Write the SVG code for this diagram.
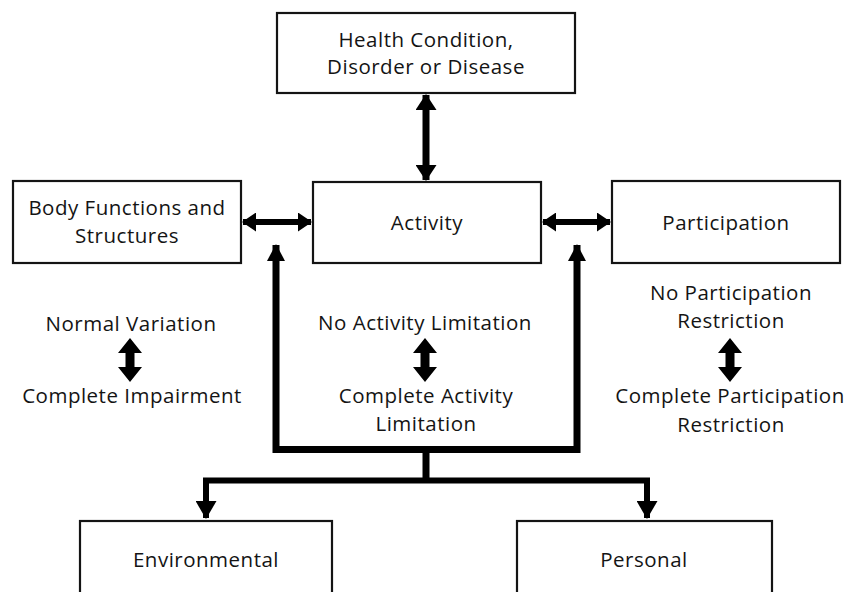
<svg xmlns="http://www.w3.org/2000/svg" width="847" height="592" viewBox="0 0 847 592">
  <style>
    .box { fill: #ffffff; stroke: #141414; stroke-width: 2.2; }
    .lbl { font-family: "Open Sans", "Noto Sans", "Liberation Sans", sans-serif; font-size: 20.5px; font-weight: 500; fill: #141414; text-anchor: middle; letter-spacing: 0.5px; }
    .conn { fill: none; stroke: #000000; stroke-linejoin: miter; stroke-linecap: butt; }
    .thick { stroke-width: 7; }
    .mid { stroke-width: 6; }
    .fat { fill: #000000; }
  </style>
  <defs>
    <marker id="headV" markerUnits="userSpaceOnUse" markerWidth="16" markerHeight="21" viewBox="0 0 16 21" refX="15" refY="10.5" orient="auto-start-reverse">
      <path d="M0,0 L16,10.5 L0,21 z" fill="#000"/>
    </marker>
    <marker id="headH" markerUnits="userSpaceOnUse" markerWidth="14" markerHeight="19" viewBox="0 0 14 19" refX="13" refY="9.5" orient="auto-start-reverse">
      <path d="M0,0 L14,9.5 L0,19 z" fill="#000"/>
    </marker>
    <marker id="headU" markerUnits="userSpaceOnUse" markerWidth="17" markerHeight="18" viewBox="0 0 17 18" refX="16" refY="9" orient="auto-start-reverse">
      <path d="M0,0 L17,9 L0,18 z" fill="#000"/>
    </marker>
    <marker id="headD" markerUnits="userSpaceOnUse" markerWidth="18" markerHeight="21" viewBox="0 0 18 21" refX="17" refY="10.5" orient="auto-start-reverse">
      <path d="M0,0 L18,10.5 L0,21 z" fill="#000"/>
    </marker>
    <polygon id="fatArrow" class="fat" points="0,0 12,15 4.5,15 4.5,29 12,29 0,44 -12,29 -4.5,29 -4.5,15 -12,15"/>
  </defs>

  <g id="connectors">
    <path class="conn thick" d="M426,95 L426,180" marker-start="url(#headV)" marker-end="url(#headV)"/>
    <path class="conn mid" d="M243,222 L311,222" marker-start="url(#headH)" marker-end="url(#headH)"/>
    <path class="conn mid" d="M543,222 L610,222" marker-start="url(#headH)" marker-end="url(#headH)"/>
    <path class="conn thick" d="M276,245 L276,449.5 L577,449.5 L577,245" marker-start="url(#headU)" marker-end="url(#headU)"/>
    <path class="conn thick" d="M426,449.5 L426,480.5"/>
    <path class="conn mid" d="M206,518 L206,480.5 L647,480.5 L647,518" marker-start="url(#headD)" marker-end="url(#headD)"/>
    <use href="#fatArrow" x="130" y="338"/>
    <use href="#fatArrow" x="425" y="338"/>
    <use href="#fatArrow" x="730" y="338"/>
  </g>

  <g id="node-health">
    <rect class="box" x="277" y="13" width="298" height="80"/>
    <text class="lbl" x="426" y="47">Health Condition,</text>
    <text class="lbl" x="426" y="74">Disorder or Disease</text>
  </g>
  <g id="node-body">
    <rect class="box" x="13" y="181" width="228" height="82"/>
    <text class="lbl" x="127" y="215">Body Functions and</text>
    <text class="lbl" x="127" y="243">Structures</text>
  </g>
  <g id="node-activity">
    <rect class="box" x="313" y="182" width="228" height="81"/>
    <text class="lbl" x="427" y="230">Activity</text>
  </g>
  <g id="node-participation">
    <rect class="box" x="612" y="181" width="228" height="82"/>
    <text class="lbl" x="726" y="230">Participation</text>
  </g>
  <g id="node-environmental">
    <rect class="box" x="80" y="521" width="252" height="90"/>
    <text class="lbl" x="206" y="567">Environmental</text>
  </g>
  <g id="node-personal">
    <rect class="box" x="517" y="521" width="255" height="90"/>
    <text class="lbl" x="644" y="567">Personal</text>
  </g>

  <g id="scale-body">
    <text class="lbl" x="131" y="331">Normal Variation</text>
    <text class="lbl" x="132" y="403">Complete Impairment</text>
  </g>
  <g id="scale-activity">
    <text class="lbl" x="425" y="330">No Activity Limitation</text>
    <text class="lbl" x="426" y="403">Complete Activity</text>
    <text class="lbl" x="426" y="431">Limitation</text>
  </g>
  <g id="scale-participation">
    <text class="lbl" x="731" y="300">No Participation</text>
    <text class="lbl" x="731" y="328">Restriction</text>
    <text class="lbl" x="730" y="403">Complete Participation</text>
    <text class="lbl" x="731" y="432">Restriction</text>
  </g>
</svg>
